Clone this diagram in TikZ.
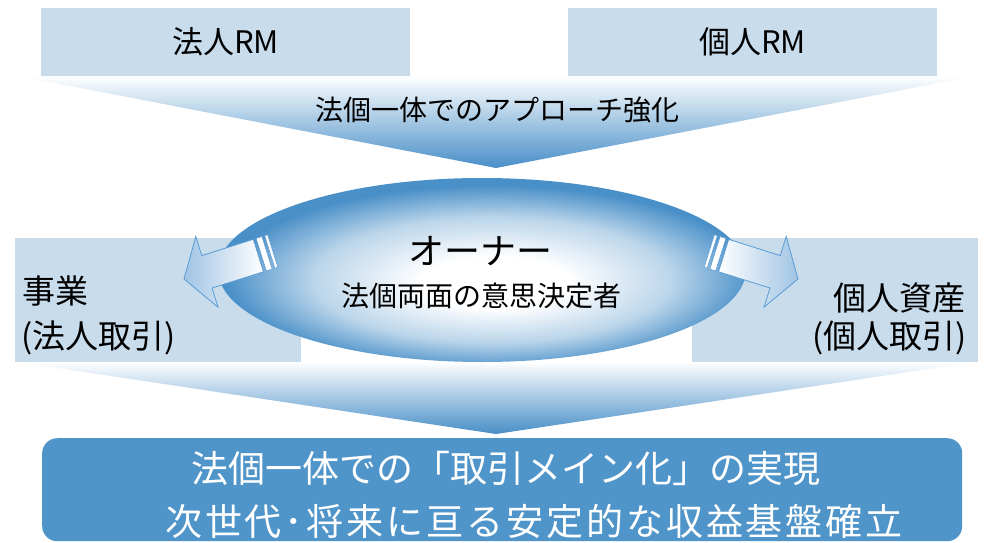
\documentclass[tikz,border=0pt]{standalone}
\usepackage{fontspec}
\setmainfont{Noto Sans CJK JP}
\usetikzlibrary{shapes.geometric}
\definecolor{boxlight}{RGB}{200,220,236}
\definecolor{eblue}{RGB}{74,144,200}
\definecolor{botblue}{RGB}{80,149,201}
\definecolor{fblue}{RGB}{72,142,199}
\definecolor{arrline}{RGB}{90,155,212}
\definecolor{arrtip}{RGB}{160,196,228}
\colorlet{elight}{eblue!38!white}
\pgfdeclareradialshading{ellsh}{\pgfpoint{1.5bp}{-4bp}}{color(0bp)=(white); color(7bp)=(white); color(17bp)=(elight); color(25bp)=(eblue); color(50bp)=(eblue)}
\begin{document}
\begin{tikzpicture}[x=1pt,y=-1pt,
  lightbox/.style={fill=boxlight, draw=none, inner sep=0pt, anchor=north west},
  jp/.style={font=\fontsize{#1}{#1}\selectfont, inner sep=0pt},
  funnel/.style={top color=white, middle color=fblue!35!white, bottom color=fblue, draw=none},
  arrbodyL/.style={left color=arrtip, right color=white, draw=arrline, line width=0.8pt, line join=miter},
  arrbodyR/.style={left color=white, right color=arrtip, draw=arrline, line width=0.8pt, line join=miter},
  stripe/.style={fill=white, draw=arrline, line width=0.5pt}]
\useasboundingbox (0,0) rectangle (993,543);
\fill[white] (0,0) rectangle (993,543);

% top funnel
\coordinate (tfL) at (18,76);
\coordinate (tfR) at (975,76);
\coordinate (tfA) at (496,168);
\path[funnel] (tfL) -- (tfR) -- (tfA) -- cycle;

% bottom funnel
\coordinate (bfL) at (18,362);
\coordinate (bfR) at (975,362);
\coordinate (bfA) at (496,434);
\path[funnel] (bfL) -- (bfR) -- (bfA) -- cycle;

% top boxes
\node[lightbox, minimum width=369pt, minimum height=68pt, jp=31pt] (corpRM) at (41,8) {法人RM};
\node[lightbox, minimum width=369pt, minimum height=68pt, jp=31pt] (indRM) at (568,8) {個人RM};
\node[jp=28pt] (approach) at (497,110) {法個一体でのアプローチ強化};

% middle boxes
\node[lightbox, minimum width=286pt, minimum height=124pt] (biz) at (15,238) {};
\node[lightbox, minimum width=286pt, minimum height=124pt] (per) at (692,238) {};
\node[jp=33pt, anchor=west] (bizA) at (22,291) {事業};
\node[jp=33pt, anchor=west] (bizB) at (21,338) {(法人取引)};
\node[jp=33pt, anchor=east] (perA) at (966,298) {個人資産};
\node[jp=33pt, anchor=east] (perB) at (967,338) {(個人取引)};

% owner ellipse
\node[ellipse, shade, shading=ellsh, draw=none, inner sep=0pt, minimum width=528pt, minimum height=184pt] (owner) at (482,270) {};
\node[jp=36pt] (ownerA) at (480,251) {オーナー};
\node[jp=28pt] (ownerB) at (481,296) {法個両面の意思決定者};

% left striped arrow
\path[arrbodyL] (184,279) -- (195.8,236.5) -- (201.8,255.6) -- (253.3,239.3) -- (263.5,271.8) -- (212.0,288.0) -- (218.0,307.1) -- cycle;
\path[stripe] (256.1,238.4) -- (261.9,236.6) -- (272.1,269.1) -- (266.4,270.9) -- cycle;
\path[stripe] (264.7,235.7) -- (267.6,234.8) -- (277.8,267.2) -- (274.9,268.2) -- cycle;

% right striped arrow
\path[arrbodyR] (798,279) -- (786.2,236.5) -- (780.2,255.6) -- (728.7,239.3) -- (718.5,271.8) -- (770.0,288.0) -- (764.0,307.1) -- cycle;
\path[stripe] (725.9,238.4) -- (720.1,236.6) -- (709.9,269.1) -- (715.6,270.9) -- cycle;
\path[stripe] (717.3,235.7) -- (714.4,234.8) -- (704.2,267.2) -- (707.1,268.2) -- cycle;

% result box
\node[fill=botblue, draw=none, rounded corners=15pt, inner sep=0pt, anchor=north west, minimum width=920pt, minimum height=103pt] (result) at (42,438) {};
\node[jp=37pt, text=white] (resA) at (506,468) {法個一体での「取引メイン化」の実現};
\node[jp=37pt, text=white] (resB) at (534,521) {\addfontfeature{LetterSpace=8}次世代･将来に亘る安定的な収益基盤確立};
\end{tikzpicture}
\end{document}
